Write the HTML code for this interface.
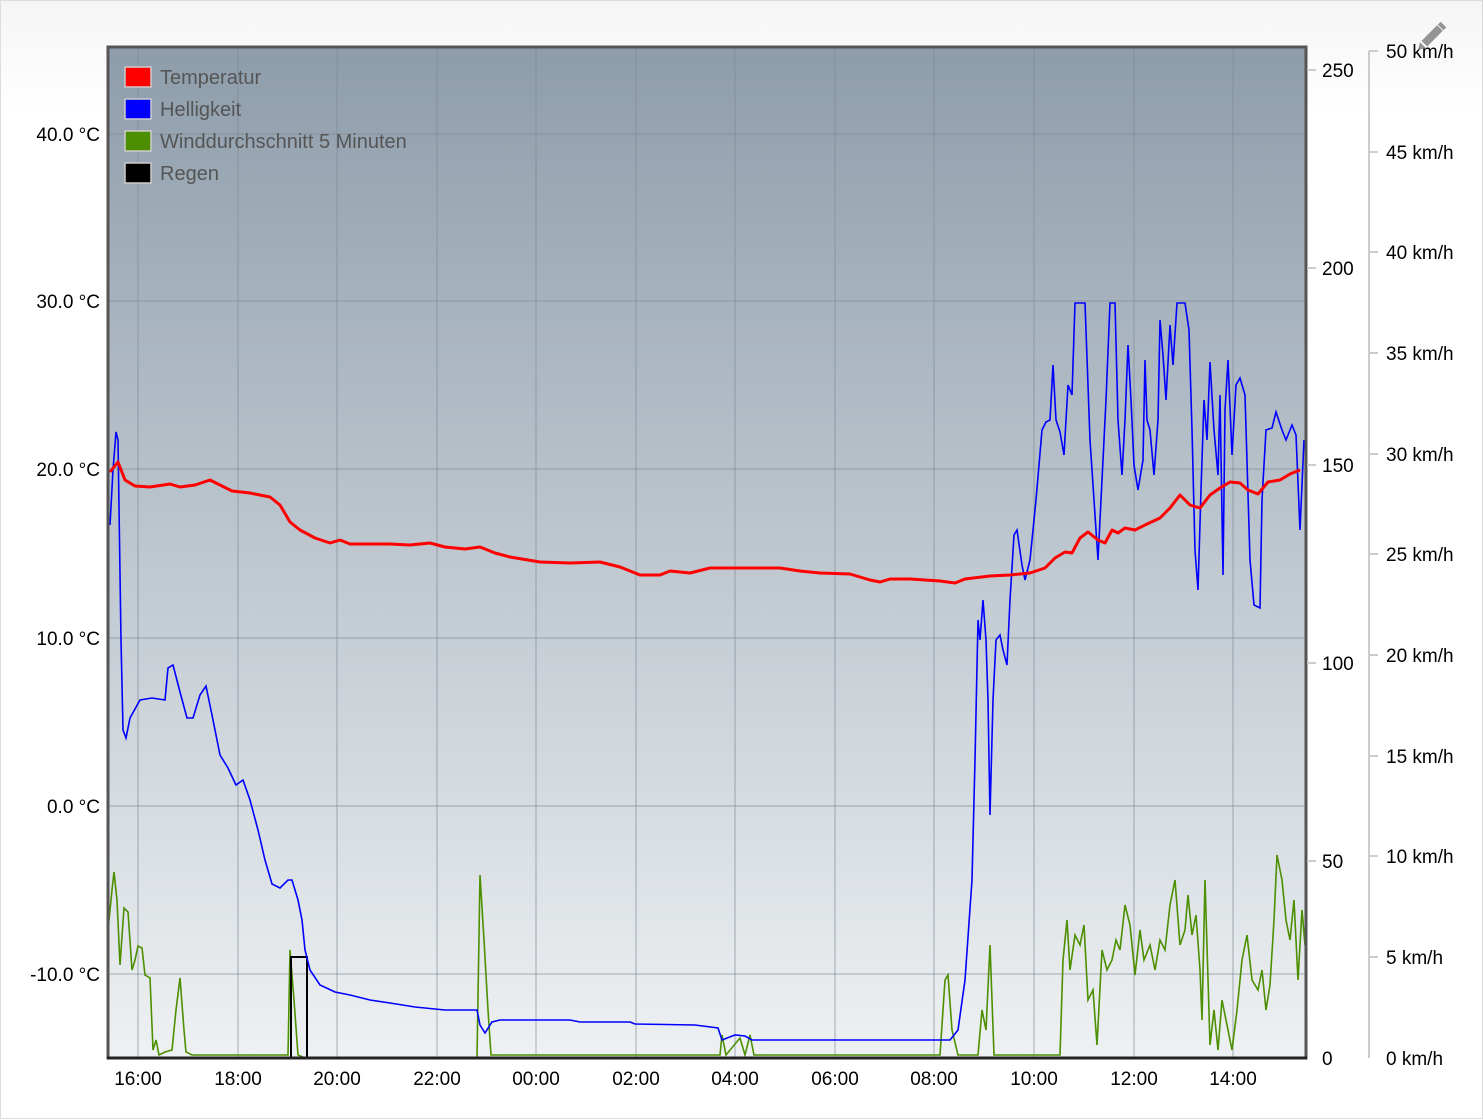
<!DOCTYPE html>
<html><head><meta charset="utf-8"><style>
html,body{margin:0;padding:0;background:#fff;}
svg{display:block;font-family:"Liberation Sans",sans-serif;}
</style></head><body>
<svg width="1483" height="1119" viewBox="0 0 1483 1119">
<defs>
<linearGradient id="bg" x1="0" y1="0" x2="0" y2="1"><stop offset="0" stop-color="#8e9dab"/><stop offset="1" stop-color="#eef1f3"/></linearGradient>
<linearGradient id="pg" x1="0" y1="0" x2="0" y2="1"><stop offset="0" stop-color="#f5f5f5"/><stop offset="0.1" stop-color="#ffffff"/></linearGradient>
</defs>
<rect x="0.5" y="0.5" width="1482" height="1118" fill="url(#pg)" stroke="#ddd"/>
<rect x="108" y="47" width="1198" height="1011" fill="url(#bg)"/>
<g stroke="#7f8a94" stroke-opacity="0.45" stroke-width="1.5">
<line x1="138" y1="47" x2="138" y2="1058"/><line x1="238" y1="47" x2="238" y2="1058"/><line x1="337" y1="47" x2="337" y2="1058"/><line x1="437" y1="47" x2="437" y2="1058"/><line x1="536" y1="47" x2="536" y2="1058"/><line x1="636" y1="47" x2="636" y2="1058"/><line x1="735" y1="47" x2="735" y2="1058"/><line x1="835" y1="47" x2="835" y2="1058"/><line x1="934" y1="47" x2="934" y2="1058"/><line x1="1034" y1="47" x2="1034" y2="1058"/><line x1="1134" y1="47" x2="1134" y2="1058"/><line x1="1233" y1="47" x2="1233" y2="1058"/>
<line x1="108" y1="134" x2="1306" y2="134"/><line x1="108" y1="301" x2="1306" y2="301"/><line x1="108" y1="469" x2="1306" y2="469"/><line x1="108" y1="638" x2="1306" y2="638"/><line x1="108" y1="806" x2="1306" y2="806"/><line x1="108" y1="974" x2="1306" y2="974"/>
</g>
<polyline fill="none" stroke="#4c8f00" stroke-width="1.6" points="108,930 112,890 114,872 117,900 120,965 124,908 128,912 132,970 135,960 138,946 142,948 145,975 150,978 153,1050 156,1040 159,1055 165,1052 172,1050 176,1010 180,978 184,1030 186,1052 192,1055 288,1055 290,950 294,1000 298,1055 305,1058 477,1058 480,875 484,940 488,1010 491,1055 720,1055 722,1035 726,1055 740,1038 745,1055 750,1035 754,1055 940,1055 945,980 948,975 952,1030 958,1055 978,1055 982,1010 986,1030 990,945 994,1055 1060,1055 1063,960 1067,920 1070,970 1075,935 1080,945 1084,925 1088,1000 1093,990 1097,1045 1102,950 1107,970 1112,960 1116,940 1120,950 1125,905 1130,925 1135,975 1140,930 1144,960 1150,945 1155,970 1160,940 1165,950 1170,905 1175,880 1180,945 1185,930 1188,895 1192,935 1196,915 1200,970 1202,1020 1205,880 1210,1045 1214,1010 1218,1050 1222,1000 1226,1020 1232,1050 1237,1010 1242,960 1247,935 1252,980 1258,990 1262,970 1266,1010 1270,985 1274,920 1277,855 1282,880 1286,920 1290,940 1294,900 1298,980 1302,910 1305,945"/>
<rect x="291" y="957" width="16" height="101" fill="none" stroke="#000" stroke-width="2"/>
<polyline fill="none" stroke="#0000ff" stroke-width="1.6" points="110,525 113,470 116,432 118,440 121,640 123,730 126,738 130,718 140,700 152,698 165,700 168,668 173,665 180,692 187,718 193,718 200,695 206,686 212,715 220,755 228,768 236,785 243,780 250,800 258,830 265,860 272,884 280,888 288,880 292,880 298,900 302,920 305,950 310,970 320,985 335,992 350,995 370,1000 390,1003 415,1007 445,1010 477,1010 480,1025 485,1033 492,1022 500,1020 570,1020 580,1022 630,1022 635,1024 695,1025 718,1028 722,1040 735,1035 745,1036 752,1040 950,1040 958,1030 965,980 972,880 975,760 978,620 980,640 983,600 986,640 988,700 990,815 993,700 996,640 1000,635 1003,650 1007,665 1010,600 1014,535 1017,530 1022,565 1025,580 1030,560 1036,500 1042,430 1046,422 1050,420 1053,365 1056,420 1060,432 1064,455 1068,385 1072,395 1075,303 1085,303 1090,440 1094,500 1098,560 1102,480 1106,400 1110,303 1115,303 1118,420 1122,475 1125,420 1128,345 1131,400 1134,465 1138,490 1143,460 1145,360 1147,420 1150,430 1154,475 1158,420 1160,320 1163,355 1166,400 1170,325 1173,365 1177,303 1185,303 1189,330 1192,430 1195,550 1198,590 1201,490 1204,400 1207,440 1210,362 1214,430 1218,475 1220,395 1223,575 1225,410 1228,360 1232,455 1236,385 1240,378 1245,395 1250,560 1254,605 1260,608 1262,500 1266,430 1272,428 1276,412 1282,430 1286,440 1292,425 1296,435 1300,530 1304,440"/>
<polyline fill="none" stroke="#ff0000" stroke-width="3" stroke-linejoin="round" points="110,472 118,462 125,480 135,486 150,487 170,484 180,487 195,485 210,480 220,485 232,491 250,493 270,497 280,505 290,522 300,530 315,538 330,543 340,540 350,544 390,544 410,545 430,543 445,547 465,549 480,547 495,553 510,557 540,562 570,563 600,562 620,567 640,575 660,575 670,571 690,573 710,568 780,568 800,571 820,573 850,574 870,580 880,582 890,579 910,579 940,581 955,583 965,579 990,576 1010,575 1030,573 1045,568 1055,558 1065,552 1072,553 1080,538 1088,532 1098,540 1105,543 1112,530 1118,533 1125,528 1135,530 1145,525 1160,518 1170,508 1180,495 1190,505 1200,508 1210,495 1220,488 1230,482 1240,483 1248,490 1258,494 1268,482 1280,480 1290,474 1300,470"/>
<rect x="108" y="47" width="1198" height="1011" fill="none" stroke="#555" stroke-width="3"/>
<line x1="107" y1="1058" x2="1307" y2="1058" stroke="#222" stroke-width="3"/>
<g font-size="20" fill="#555">
<rect x="125" y="67" width="26" height="20" fill="#ff0000" stroke="#ccc" stroke-width="1.5"/><text x="160" y="84">Temperatur</text>
<rect x="125" y="99" width="26" height="20" fill="#0000ff" stroke="#ccc" stroke-width="1.5"/><text x="160" y="116">Helligkeit</text>
<rect x="125" y="131" width="26" height="20" fill="#4c8f00" stroke="#ccc" stroke-width="1.5"/><text x="160" y="148">Winddurchschnitt 5 Minuten</text>
<rect x="125" y="163" width="26" height="20" fill="#000" stroke="#ccc" stroke-width="1.5"/><text x="160" y="180">Regen</text>
</g>
<g font-size="19" fill="#000" text-anchor="end">
<text x="100" y="141">40.0 °C</text><text x="100" y="308">30.0 °C</text><text x="100" y="476">20.0 °C</text><text x="100" y="645">10.0 °C</text><text x="100" y="813">0.0 °C</text><text x="100" y="981">-10.0 °C</text>
</g>
<g font-size="19" fill="#000" text-anchor="middle">
<text x="138" y="1085">16:00</text><text x="238" y="1085">18:00</text><text x="337" y="1085">20:00</text><text x="437" y="1085">22:00</text><text x="536" y="1085">00:00</text><text x="636" y="1085">02:00</text><text x="735" y="1085">04:00</text><text x="835" y="1085">06:00</text><text x="934" y="1085">08:00</text><text x="1034" y="1085">10:00</text><text x="1134" y="1085">12:00</text><text x="1233" y="1085">14:00</text>
</g>
<g stroke="#ccc" stroke-width="2">
<line x1="1307" y1="70" x2="1316" y2="70"/><line x1="1307" y1="268" x2="1316" y2="268"/><line x1="1307" y1="465" x2="1316" y2="465"/><line x1="1307" y1="663" x2="1316" y2="663"/><line x1="1307" y1="861" x2="1316" y2="861"/>
<line x1="1369" y1="51" x2="1369" y2="1058"/>
<line x1="1369" y1="51" x2="1378" y2="51"/><line x1="1369" y1="152" x2="1378" y2="152"/><line x1="1369" y1="252" x2="1378" y2="252"/><line x1="1369" y1="353" x2="1378" y2="353"/><line x1="1369" y1="454" x2="1378" y2="454"/><line x1="1369" y1="554" x2="1378" y2="554"/><line x1="1369" y1="655" x2="1378" y2="655"/><line x1="1369" y1="756" x2="1378" y2="756"/><line x1="1369" y1="856" x2="1378" y2="856"/><line x1="1369" y1="957" x2="1378" y2="957"/>
</g>
<g font-size="19" fill="#000">
<text x="1322" y="77">250</text><text x="1322" y="275">200</text><text x="1322" y="472">150</text><text x="1322" y="670">100</text><text x="1322" y="868">50</text><text x="1322" y="1065">0</text>
<text x="1386" y="58">50 km/h</text><text x="1386" y="159">45 km/h</text><text x="1386" y="259">40 km/h</text><text x="1386" y="360">35 km/h</text><text x="1386" y="461">30 km/h</text><text x="1386" y="561">25 km/h</text><text x="1386" y="662">20 km/h</text><text x="1386" y="763">15 km/h</text><text x="1386" y="863">10 km/h</text><text x="1386" y="964">5 km/h</text><text x="1386" y="1065">0 km/h</text>
</g>
<g transform="translate(1430,38) rotate(45)" fill="#8a8a8a" opacity="0.9">
<rect x="-4" y="-14" width="8" height="22"/><polygon points="-4,10 4,10 0,17"/><rect x="-4" y="-19" width="8" height="4"/>
</g>
</svg>
</body></html>
